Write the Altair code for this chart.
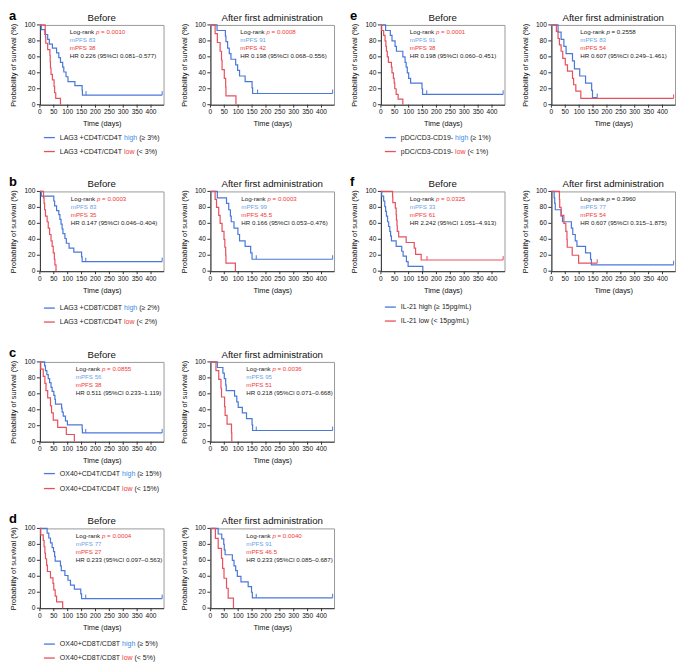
import altair as alt
import pandas as pd

FONT = "Liberation Sans"
BLUE = "#4a78d8"
RED = "#e8505e"
BLUE_TXT = "#6ea3e6"
RED_TXT = "#f03a3a"
LEG_HI = "#3c8de8"
LEG_LO = "#f03a3a"
DARK = "#222222"
AXC = "#333333"

W, H = 124, 80
XMAX = 445
FS = 6.2      # annotation font size
LFS = 7       # legend font size
TFS = 6.6     # tick label font size

# ---------------- survival curves (time in days, survival in %) ----------------
a_before_high_t = [0, 5, 18, 28, 34, 45, 60, 68, 74, 82, 86, 94, 101, 126, 152, 153]
a_before_high_s = [100, 94, 88, 82, 76, 71, 65, 59, 53, 47, 41, 35, 29, 24, 18, 12]
a_before_high_c = [166, 440]
a_before_low_t = [0, 19, 20, 21, 28, 36, 37, 38, 40, 45, 51, 53, 57, 74]
a_before_low_s = [100, 92, 85, 77, 69, 62, 54, 46, 38, 31, 23, 15, 8, 0]
a_before_low_c = []

a_after_high_t = [0, 24, 54, 56, 62, 68, 74, 91, 98, 105, 125, 150, 152]
a_after_high_s = [100, 93, 86, 79, 71, 64, 57, 50, 43, 36, 29, 21, 14]
a_after_high_c = [170, 440]
a_after_low_t = [0, 17, 25, 35, 40, 42, 50, 55, 56, 92]
a_after_low_s = [100, 89, 78, 67, 56, 44, 33, 22, 11, 0]
a_after_low_c = []

b_before_high_t = [0, 5, 50, 53, 60, 68, 72, 76, 80, 83, 90, 95, 105, 122, 150, 152]
b_before_high_s = [100, 94, 88, 82, 76, 71, 65, 59, 53, 47, 41, 35, 29, 24, 18, 12]
b_before_high_c = [165, 440]
b_before_low_t = [0, 13, 15, 17, 20, 26, 30, 35, 40, 44, 48, 52, 54, 58]
b_before_low_s = [100, 92, 85, 77, 69, 62, 54, 46, 38, 31, 23, 15, 8, 0]
b_before_low_c = []

b_after_high_t = [0, 25, 58, 66, 72, 75, 85, 99, 105, 125, 145, 150]
b_after_high_s = [100, 92, 85, 77, 69, 62, 54, 46, 38, 31, 23, 15]
b_after_high_c = [165, 440]
b_after_low_t = [0, 17, 22, 30, 35, 42, 49, 52, 55, 56, 90]
b_after_low_s = [100, 90, 80, 70, 60, 50, 40, 30, 20, 10, 0]
b_after_low_c = []

c_before_high_t = [0, 17, 20, 25, 30, 35, 40, 44, 50, 54, 56, 78, 80, 84, 92, 99, 152, 153]
c_before_high_s = [100, 95, 89, 84, 79, 74, 68, 63, 58, 53, 47, 42, 37, 32, 26, 21, 16, 11]
c_before_high_c = [165, 440]
c_before_low_t = [0, 3, 12, 18, 22, 28, 38, 42, 48, 64, 95, 124]
c_before_low_s = [100, 91, 82, 73, 64, 55, 45, 36, 27, 18, 9, 0]
c_before_low_c = []

c_after_high_t = [0, 25, 45, 50, 55, 57, 87, 95, 100, 115, 130, 150, 152]
c_after_high_s = [100, 93, 86, 79, 71, 64, 57, 50, 43, 36, 29, 21, 14]
c_after_high_c = [165, 440]
c_after_low_t = [0, 20, 30, 38, 40, 51, 53, 60, 76, 77]
c_after_low_s = [100, 89, 78, 67, 56, 44, 33, 22, 11, 0]
c_after_low_c = []

d_before_high_t = [0, 26, 32, 38, 44, 49, 53, 55, 74, 77, 90, 101, 110, 124, 147, 150]
d_before_high_s = [100, 94, 88, 82, 76, 71, 65, 59, 53, 47, 41, 35, 29, 24, 18, 12]
d_before_high_c = [165, 440]
d_before_low_t = [0, 3, 12, 15, 18, 20, 24, 27, 38, 47, 50, 55, 60, 82]
d_before_low_s = [100, 92, 85, 77, 69, 62, 54, 46, 38, 31, 23, 15, 8, 0]
d_before_low_c = []

d_after_high_t = [0, 28, 41, 48, 50, 53, 79, 85, 91, 97, 110, 136, 148, 151]
d_after_high_s = [100, 93, 87, 80, 73, 67, 60, 53, 47, 40, 33, 27, 20, 13]
d_after_high_c = [165, 440]
d_after_low_t = [0, 18, 28, 40, 44, 49, 58, 64, 83]
d_after_low_s = [100, 87.5, 75, 62.5, 50, 37.5, 25, 12.5, 0]
d_after_low_c = []

e_before_high_t = [0, 17, 34, 40, 51, 56, 79, 87, 91, 95, 100, 107, 148, 150]
e_before_high_s = [100, 93, 87, 80, 73, 67, 60, 53, 47, 40, 33, 27, 20, 13]
e_before_high_c = [165, 440]
e_before_low_t = [0, 3, 10, 15, 18, 20, 23, 27, 38, 40, 45, 48, 50, 55, 62, 79]
e_before_low_s = [100, 93, 87, 80, 73, 67, 60, 53, 47, 40, 33, 27, 20, 13, 7, 0]
e_before_low_c = []

e_after_high_t = [0, 24, 35, 45, 53, 76, 83, 102, 123, 145, 148]
e_after_high_s = [100, 91, 82, 73, 64, 55, 45, 36, 27, 18, 9]
e_after_high_c = [165]
e_after_low_t = [0, 18, 24, 29, 35, 41, 50, 58, 76, 80, 88, 106]
e_after_low_s = [100, 92, 83, 75, 67, 58, 50, 42, 33, 25, 17, 8]
e_after_low_c = [440]

f_before_high_t = [0, 3, 10, 14, 17, 20, 24, 28, 32, 35, 38, 55, 75, 80, 92, 98, 151]
f_before_high_s = [100, 94, 88, 81, 75, 69, 62, 56, 50, 44, 38, 31, 25, 19, 12, 6, 0]
f_before_high_c = []
f_before_low_t = [0, 42, 43, 52, 55, 56, 58, 59, 64, 91, 120, 125, 145]
f_before_low_s = [100, 93, 86, 79, 71, 64, 57, 50, 43, 36, 29, 21, 14]
f_before_low_c = [166, 440]

f_after_high_t = [0, 10, 12, 14, 35, 40, 72, 77, 86, 92, 123, 141, 144]
f_after_high_s = [100, 92, 85, 77, 69, 62, 54, 46, 38, 31, 23, 15, 8]
f_after_high_c = [440]
f_after_low_t = [0, 29, 30, 35, 45, 52, 56, 57, 75, 98]
f_after_low_s = [100, 90, 80, 70, 60, 50, 40, 30, 20, 10]
f_after_low_c = [165]

# axis tick values
x_ticks = [0, 50, 100, 150, 200, 250, 300, 350, 400]
y_ticks = [0, 20, 40, 60, 80, 100]

# ---------------- annotation texts ----------------
# [p value, p is red?, mPFS high, mPFS low, HR line]
a_before_notes = ["0.0010", True, "83", "38", "HR 0.226 (95%CI 0.081–0.577)"]
a_after_notes = ["0.0008", True, "91", "42", "HR 0.198 (95%CI 0.068–0.556)"]
b_before_notes = ["0.0003", True, "83", "35", "HR 0.147 (95%CI 0.046–0.404)"]
b_after_notes = ["0.0003", True, "99", "45.5", "HR 0.166 (95%CI 0.053–0.476)"]
c_before_notes = ["0.0855", True, "56", "38", "HR 0.511 (95%CI 0.233–1.119)"]
c_after_notes = ["0.0036", True, "95", "51", "HR 0.218 (95%CI 0.071–0.668)"]
d_before_notes = ["0.0004", True, "77", "27", "HR 0.233 (95%CI 0.097–0.563)"]
d_after_notes = ["0.0040", True, "91", "46.5", "HR 0.233 (95%CI 0.085–0.687)"]
e_before_notes = ["0.0001", True, "91", "38", "HR 0.198 (95%CI 0.060–0.451)"]
e_after_notes = ["0.2558", False, "83", "54", "HR 0.607 (95%CI 0.249–1.461)"]
f_before_notes = ["0.0325", True, "33", "61", "HR 2.242 (95%CI 1.051–4.913)"]
f_after_notes = ["0.3960", False, "77", "54", "HR 0.607 (95%CI 0.315–1.875)"]

# legend texts: [prefix high, suffix high, prefix low, suffix low, coloured words?]
a_legend = ["LAG3 +CD4T/CD4T", "(≥ 3%)", "LAG3 +CD4T/CD4T", "(< 3%)", True]
b_legend = ["LAG3 +CD8T/CD8T", "(≥ 2%)", "LAG3 +CD8T/CD4T", "(< 2%)", True]
c_legend = ["OX40+CD4T/CD4T", "(≥ 15%)", "OX40+CD4T/CD4T", "(< 15%)", True]
d_legend = ["OX40+CD8T/CD8T", "(≥ 5%)", "OX40+CD8T/CD8T", "(< 5%)", True]
e_legend = ["pDC/CD3-CD19-", "(≥ 1%)", "pDC/CD3-CD19-", "(< 1%)", True]
f_legend = ["IL-21", "(≥ 15pg/mL)", "IL-21", "(< 15pg/mL)", False]

# ---------------- helpers ----------------
AW = {' ': 278, '(': 333, ')': 333, '+': 584, '-': 333, '/': 278, '.': 278, '%': 889,
      '<': 584, '=': 584, '≥': 549, '≤': 549, '–': 556,
      'A': 667, 'B': 667, 'C': 722, 'D': 722, 'E': 667, 'F': 611, 'G': 778, 'H': 722,
      'I': 278, 'L': 556, 'M': 833, 'N': 722, 'O': 778, 'P': 667, 'R': 722, 'S': 667,
      'T': 611, 'X': 667, 'a': 556, 'b': 556, 'c': 500, 'd': 556, 'e': 556, 'f': 278,
      'g': 556, 'h': 556, 'i': 222, 'k': 500, 'l': 222, 'm': 833, 'n': 556, 'o': 556,
      'p': 556, 'r': 333, 's': 500, 't': 278, 'u': 556, 'w': 722}


def tw(s, size):
    return sum(AW.get(ch, 556) for ch in s) * size / 1000.0


ONE = alt.Data(values=[{"k": 0}])


def txt(s, x, y, color, size, weight="normal", style="normal", opacity=1.0,
        baseline="middle", align="left"):
    return alt.Chart(ONE).mark_text(
        align=align, baseline=baseline, font=FONT, fontSize=size,
        fontWeight=weight, fontStyle=style, opacity=opacity
    ).encode(x=alt.value(x), y=alt.value(y), text=alt.value(s), color=alt.value(color))


def km_rows(t, s, c, g):
    rows = [{"t": ti, "s": si, "g": g, "i": k} for k, (ti, si) in enumerate(zip(t, s))]
    if c:
        rows.append({"t": max(c), "s": s[-1], "g": g, "i": len(t)})
    return rows


def cens_rows(t, s, c, g):
    out = []
    for ci in c:
        v = [si for ti, si in zip(t, s) if ti <= ci][-1]
        out.append({"t": ci, "s": v, "s2": v + 5, "g": g})
    return out


COLOR = alt.Color("g:N", scale=alt.Scale(domain=["high", "low"], range=[BLUE, RED]), legend=None)
XSCALE = alt.Scale(domain=[0, XMAX], nice=False, zero=False)
YSCALE = alt.Scale(domain=[0, 100], nice=False)
XAXIS = alt.Axis(labels=False, ticks=False, grid=False, title="Time (days)", titlePadding=15,
                 titleFont=FONT, titleFontSize=7.4, titleFontWeight="normal",
                 domainColor=AXC, titleColor="#111111")
YAXIS = alt.Axis(labels=False, ticks=False, grid=False, title="Probability of survival (%)",
                 titlePadding=22, titleFont=FONT, titleFontSize=7.4, titleFontWeight="normal",
                 domainColor=AXC, titleColor="#111111")


def X(f):
    return alt.X(f, scale=XSCALE, axis=XAXIS)


def Y(f):
    return alt.Y(f, scale=YSCALE, axis=YAXIS)


def axis_layers():
    xt = alt.Chart(pd.DataFrame({"v": x_ticks}))
    yt = alt.Chart(pd.DataFrame({"v": y_ticks}))
    return [
        xt.mark_rule(color=AXC, strokeWidth=1).encode(x=X("v:Q"), y=alt.value(H), y2=alt.value(H + 3)),
        xt.mark_text(baseline="top", font=FONT, fontSize=TFS, color="#111111").encode(
            x=X("v:Q"), y=alt.value(H + 4.5), text="v:Q"),
        yt.mark_rule(color=AXC, strokeWidth=1).encode(y=Y("v:Q"), x=alt.value(-3), x2=alt.value(0)),
        yt.mark_text(align="right", baseline="middle", font=FONT, fontSize=TFS, color="#111111").encode(
            y=Y("v:Q"), x=alt.value(-4.5), text="v:Q"),
    ]


def panel(title, hi, lo, notes, tx, letter, show_letter, legend=None, leg_off=(33, 47)):
    rows = km_rows(*hi, "high") + km_rows(*lo, "low")
    cr = cens_rows(*hi, "high") + cens_rows(*lo, "low")
    lines = alt.Chart(pd.DataFrame(rows)).mark_line(
        interpolate="step-after", strokeWidth=1.2
    ).encode(x=X("t:Q"), y=Y("s:Q"), color=COLOR, detail="g:N", order="i:Q")
    layers = [lines]
    if cr:
        layers.append(alt.Chart(pd.DataFrame(cr)).mark_rule(strokeWidth=1).encode(
            x=X("t:Q"), y=Y("s:Q"), y2="s2:Q", color=COLOR))
    layers += axis_layers()

    p_val, p_red, m_hi, m_lo, hr = notes
    pc = RED_TXT if p_red else DARK
    y0, dy = 7.5, 7.9
    layers.append(txt("Log-rank", tx, y0, DARK, FS))
    px = tx + tw("Log-rank ", FS)
    layers.append(txt("p", px, y0, pc, FS, style="italic"))
    layers.append(txt("= " + p_val, px + tw("p ", FS), y0, pc, FS))
    layers.append(txt("mPFS " + m_hi, tx, y0 + dy, BLUE_TXT, FS))
    layers.append(txt("mPFS " + m_lo, tx, y0 + 2 * dy, RED_TXT, FS))
    layers.append(txt(hr, tx, y0 + 3 * dy, DARK, FS))

    # panel title (drawn as text so the panel letter does not push it up)
    layers.append(txt(title, W / 2, -4, "#111111", 9.7, baseline="alphabetic", align="center"))
    layers.append(txt(letter, -31, -5, "#000000", 13, weight="bold",
                      opacity=1.0 if show_letter else 0.0, baseline="alphabetic"))

    if legend:
        pre_h, suf_h, pre_l, suf_l, coloured = legend
        for (pre, word, suf, lc, wc, yy) in [
            (pre_h, "high", suf_h, BLUE, LEG_HI, H + leg_off[0]),
            (pre_l, "low", suf_l, RED, LEG_LO, H + leg_off[1]),
        ]:
            layers.append(alt.Chart(ONE).mark_rule(strokeWidth=1.3).encode(
                x=alt.value(4), x2=alt.value(15), y=alt.value(yy), color=alt.value(lc)))
            x0 = 20
            layers.append(txt(pre, x0, yy, DARK, LFS))
            x1 = x0 + tw(pre + " ", LFS)
            layers.append(txt(word, x1, yy, wc if coloured else DARK, LFS))
            x2 = x1 + tw(word + " ", LFS)
            layers.append(txt(suf, x2, yy, DARK, LFS))

    return alt.layer(*layers).properties(width=W, height=H)


def pair(letter, bh, bl, ah, al, bnotes, anotes, legend, tx, leg_off):
    before = panel("Before", bh, bl, bnotes, tx, letter, True, legend, leg_off)
    after = panel("After first administration", ah, al, anotes, tx, letter, False)
    return [before, after]


row1 = pair("a",
            (a_before_high_t, a_before_high_s, a_before_high_c),
            (a_before_low_t, a_before_low_s, a_before_low_c),
            (a_after_high_t, a_after_high_s, a_after_high_c),
            (a_after_low_t, a_after_low_s, a_after_low_c),
            a_before_notes, a_after_notes, a_legend, 30, (33, 47)) + \
       pair("e",
            (e_before_high_t, e_before_high_s, e_before_high_c),
            (e_before_low_t, e_before_low_s, e_before_low_c),
            (e_after_high_t, e_after_high_s, e_after_high_c),
            (e_after_low_t, e_after_low_s, e_after_low_c),
            e_before_notes, e_after_notes, e_legend, 29, (33, 47))

row2 = pair("b",
            (b_before_high_t, b_before_high_s, b_before_high_c),
            (b_before_low_t, b_before_low_s, b_before_low_c),
            (b_after_high_t, b_after_high_s, b_after_high_c),
            (b_after_low_t, b_after_low_s, b_after_low_c),
            b_before_notes, b_after_notes, b_legend, 31, (37, 51)) + \
       pair("f",
            (f_before_high_t, f_before_high_s, f_before_high_c),
            (f_before_low_t, f_before_low_s, f_before_low_c),
            (f_after_high_t, f_after_high_s, f_after_high_c),
            (f_after_low_t, f_after_low_s, f_after_low_c),
            f_before_notes, f_after_notes, f_legend, 29, (36, 50))

row3 = pair("c",
            (c_before_high_t, c_before_high_s, c_before_high_c),
            (c_before_low_t, c_before_low_s, c_before_low_c),
            (c_after_high_t, c_after_high_s, c_after_high_c),
            (c_after_low_t, c_after_low_s, c_after_low_c),
            c_before_notes, c_after_notes, c_legend, 36, (32, 47))

row4 = pair("d",
            (d_before_high_t, d_before_high_s, d_before_high_c),
            (d_before_low_t, d_before_low_s, d_before_low_c),
            (d_after_high_t, d_after_high_s, d_after_high_c),
            (d_after_low_t, d_after_low_s, d_after_low_c),
            d_before_notes, d_after_notes, d_legend, 36, (36, 50))

chart = alt.vconcat(
    alt.hconcat(*row1, spacing=13),
    alt.hconcat(*row2, spacing=13),
    alt.hconcat(*row3, spacing=13),
    alt.hconcat(*row4, spacing=13),
    spacing=20,
).properties(padding=0).configure_view(
    stroke="#9a9a9a", strokeWidth=1
)

chart.save("out.html", embed_options={"renderer": "svg", "actions": False})
